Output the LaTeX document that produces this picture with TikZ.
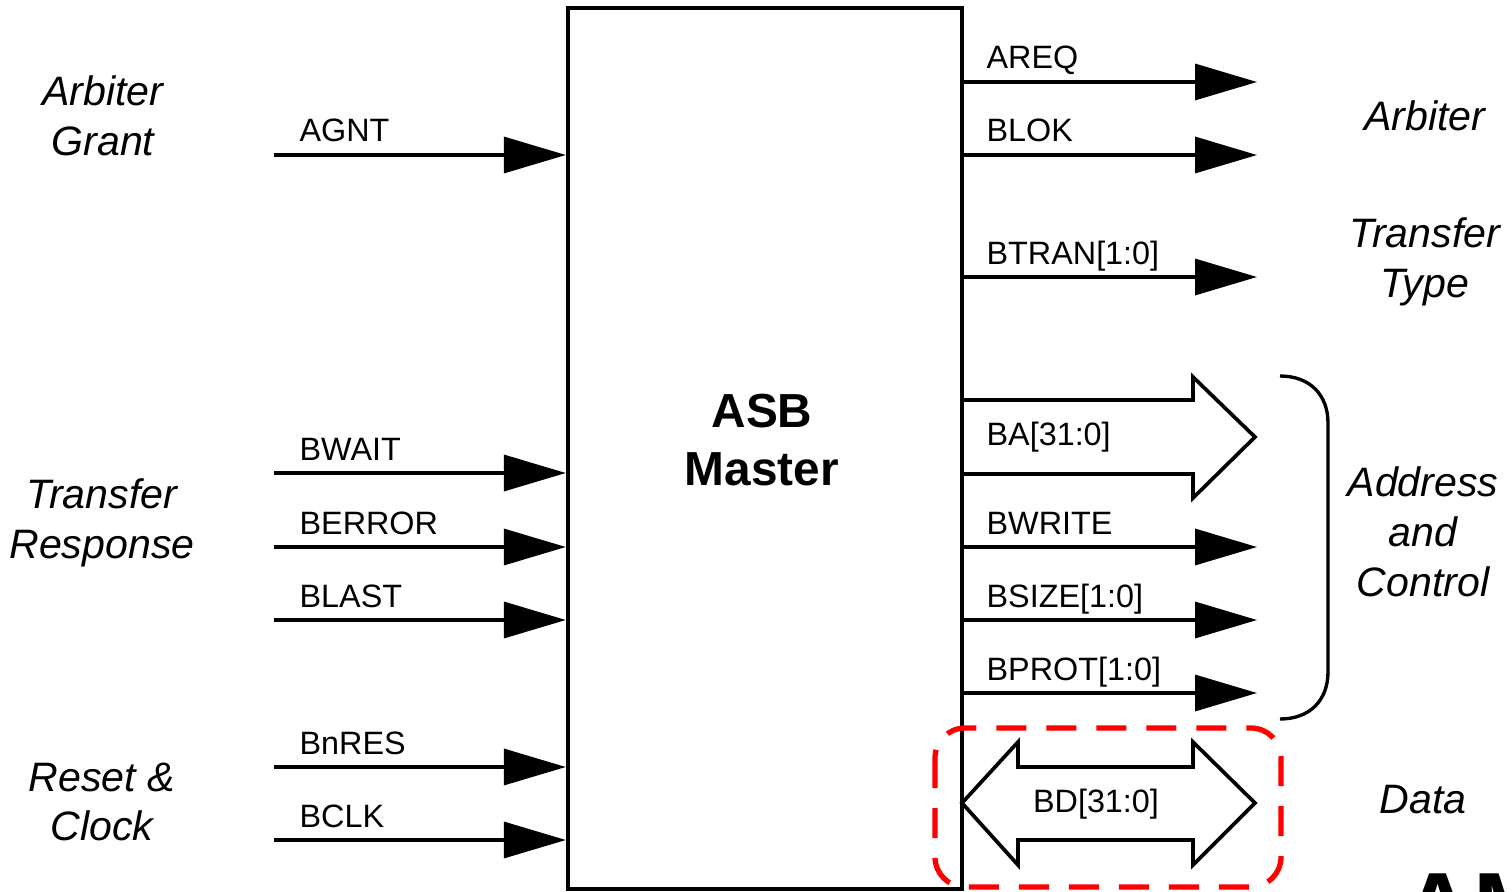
\documentclass[tikz,border=0pt]{standalone}
\usepackage{fontspec}
\setmainfont{Liberation Sans}
\usepackage{tikz}
\usetikzlibrary{arrows.meta,positioning}

\begin{document}
\begin{tikzpicture}[line width=0.95pt]
        \tikzstyle{master} = [rectangle, draw, line width=1.2pt, minimum width=3.94cm, minimum height=8.81cm]
        \tikzstyle{title} = [align=center, font=\fontsize{13.6}{16.5}\selectfont\bfseries]
        \tikzstyle{sig} = [anchor=base west, inner sep=0pt, font=\fontsize{9.2}{11}\selectfont]
        \tikzstyle{group} = [align=center, font=\fontsize{11.7}{14.2}\selectfont\itshape]
        \tikzstyle{line} = [draw, -{Triangle[length=6.2mm, width=3.6mm]}]
        \tikzstyle{bus} = [draw, line width=1.05pt, line join=miter]

        \useasboundingbox (0,0) rectangle (15.12,-8.92);
        \clip (0,0) rectangle (15.12,-8.92);

        \node [master] (asb) at (7.65,-4.485) {};
        \node [title] (asbname) at (7.62,-4.40) {ASB\\Master};

        % inputs
        \coordinate (agnt) at (2.74,-1.55);
        \coordinate (bwait) at (2.74,-4.73);
        \coordinate (berror) at (2.74,-5.47);
        \coordinate (blast) at (2.74,-6.20);
        \coordinate (bnres) at (2.74,-7.67);
        \coordinate (bclk) at (2.74,-8.40);

        \node [sig] (agntlbl) at (2.98,-1.42) {AGNT};
        \node [sig] (bwaitlbl) at (2.98,-4.60) {BWAIT};
        \node [sig] (berrorlbl) at (2.98,-5.34) {BERROR};
        \node [sig] (blastlbl) at (2.98,-6.07) {BLAST};
        \node [sig] (bnreslbl) at (2.98,-7.54) {BnRES};
        \node [sig] (bclklbl) at (2.98,-8.27) {BCLK};

        \path [line] (agnt) -- (agnt -| asb.west);
        \path [line] (bwait) -- (bwait -| asb.west);
        \path [line] (berror) -- (berror -| asb.west);
        \path [line] (blast) -- (blast -| asb.west);
        \path [line] (bnres) -- (bnres -| asb.west);
        \path [line] (bclk) -- (bclk -| asb.west);

        \node [group] (grant) at (1.03,-1.16) {Arbiter\\Grant};
        \node [group] (response) at (1.02,-5.23) {Transfer\\Response};
        \node [group] (reset) at (1.02,-8.02) {Reset \&\\Clock};

        % outputs
        \coordinate (areq) at (12.57,-0.82);
        \coordinate (blok) at (12.57,-1.55);
        \coordinate (btran) at (12.57,-2.77);
        \coordinate (bwrite) at (12.57,-5.47);
        \coordinate (bsize) at (12.57,-6.20);
        \coordinate (bprot) at (12.57,-6.93);

        \node [sig] (areqlbl) at (9.85,-0.69) {AREQ};
        \node [sig] (bloklbl) at (9.85,-1.42) {BLOK};
        \node [sig] (btranlbl) at (9.85,-2.64) {BTRAN[1:0]};
        \node [sig] (balbl) at (9.85,-4.45) {BA[31:0]};
        \node [sig] (bwritelbl) at (9.85,-5.34) {BWRITE};
        \node [sig] (bsizelbl) at (9.85,-6.07) {BSIZE[1:0]};
        \node [sig] (bprotlbl) at (9.85,-6.80) {BPROT[1:0]};

        \path [line] (areq -| asb.east) -- (areq);
        \path [line] (blok -| asb.east) -- (blok);
        \path [line] (btran -| asb.east) -- (btran);
        \path [line] (bwrite -| asb.east) -- (bwrite);
        \path [line] (bsize -| asb.east) -- (bsize);
        \path [line] (bprot -| asb.east) -- (bprot);

        % address bus
        \coordinate (ba) at (12.55,-4.37);
        \path [bus] (asb.east |- 0,-4.00) -- (11.93,-4.00) -- (11.93,-3.77) -- (ba)
                -- (11.93,-4.98) -- (11.93,-4.74) -- (asb.east |- 0,-4.74);

        % data bus
        \coordinate (bdl) at (9.62,-8.03);
        \coordinate (bdr) at (12.55,-8.03);
        \path [bus] (bdl) -- (10.18,-7.42) -- (10.18,-7.67) -- (11.93,-7.67) -- (11.93,-7.42) -- (bdr)
                -- (11.93,-8.65) -- (11.93,-8.40) -- (10.18,-8.40) -- (10.18,-8.65) -- cycle;
        \node [sig, anchor=base] (bdlbl) at (10.96,-8.12) {BD[31:0]};
        \draw [red, line width=1.5pt, dash pattern=on 3mm off 2mm, rounded corners=3mm]
                (9.35,-7.28) rectangle (12.81,-8.87);

        % brace round address and control
        \draw (12.80,-3.76) .. controls (13.10,-3.76) and (13.28,-3.95) .. (13.28,-4.23)
                -- (13.28,-6.72) .. controls (13.28,-7.00) and (13.10,-7.19) .. (12.80,-7.19);

        \node [group] (arbiter) at (14.25,-1.16) {Arbiter};
        \node [group] (ttype) at (14.25,-2.62) {Transfer\\Type};
        \node [group] (addr) at (14.23,-5.32) {Address\\and\\Control};
        \node [group] (data) at (14.23,-8.00) {Data};

        \node [anchor=base west, inner sep=0pt, font=\fontsize{28}{32}\selectfont\bfseries] (amba) at (14.01,-9.41) {AM};
    \end{tikzpicture}
\end{document}
